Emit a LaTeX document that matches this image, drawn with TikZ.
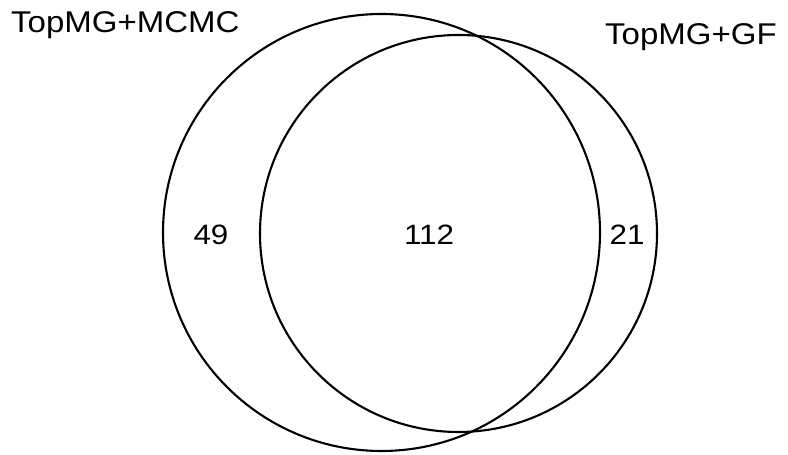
\documentclass[tikz,border=0pt]{standalone}
\usepackage{fontspec}
\setmainfont{Liberation Sans}
\usepackage{tikz}
\usetikzlibrary{shapes}
\tikzset{
  set_circle/.style = {circle, draw=black, line width=2.1pt, inner sep=0pt},% ensemble
  set_label/.style = {inner sep=0pt, anchor=base west,
    font=\fontsize{30}{30}\selectfont},% nom de l'ensemble
  count_node/.style = {inner sep=0pt, text centered,
    font=\fontsize{28}{28}\selectfont}% effectif
}

\begin{document}
\begin{tikzpicture}[x=1pt, y=1pt]
    \useasboundingbox (0,0) rectangle (788,455);
    % les deux ensembles
    \node [set_circle, minimum size=437pt] (mcmc) at (381.5,222.5) {};
    \node [set_circle, minimum size=397pt] (gf) at (458.5,221.5) {};
    % noms
    \node [set_label] (mcmc_name) at (11,422) {\scalebox{1.1}[1]{TopMG+MCMC}};
    \node [set_label] (gf_name) at (605,410) {\scalebox{1.1}[1]{TopMG+GF}};
    % effectifs
    \node [count_node] (only_mcmc) at (211,220) {\scalebox{1.12}[1]{49}};
    \node [count_node] (both) at (429,220) {\scalebox{1.12}[1]{112}};
    \node [count_node] (only_gf) at (627,220) {\scalebox{1.12}[1]{21}};
\end{tikzpicture}
\end{document}
